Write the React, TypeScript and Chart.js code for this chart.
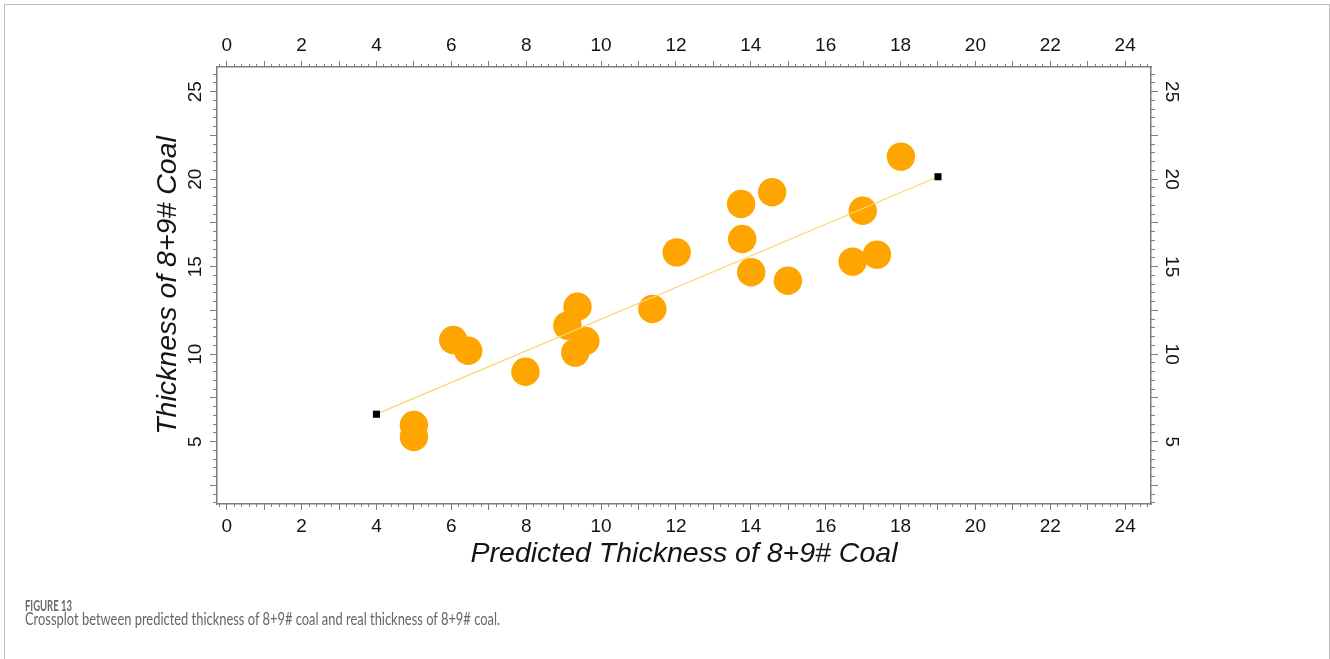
import React, { useEffect, useLayoutEffect, useRef } from "react";
import { Chart, registerables } from "chart.js";

Chart.register(...registerables);

// Crossplot values: predicted thickness (x) vs. real thickness (y) of 8+9# coal
const predicted = [5.0, 5.0, 6.05, 6.45, 7.98, 9.37, 9.1, 9.58, 9.31, 11.37, 12.02, 13.74, 13.77, 14.01, 14.57, 14.99, 16.72, 16.99, 17.37, 18.01];
const real = [5.95, 5.27, 10.81, 10.2, 9.0, 12.71, 11.63, 10.75, 10.09, 12.58, 15.82, 18.58, 16.58, 14.68, 19.25, 14.2, 15.29, 18.2, 15.69, 21.29];

// Fitted trend line end points
const trendX = [4.0, 19.0];
const trendY = [6.57, 20.14];

// Axis extents and tick spacing
const xRange = [-0.26, 24.69];
const yRange = [1.44, 26.41];
const xMajorStep = 1;
const xMinorStep = 0.2;
const xLabelEvery = 2;
const yMajorStep = 2.5;
const yMinorStep = 0.5;
const yLabelEvery = 5;

const xTitle = "Predicted Thickness of 8+9# Coal";
const yTitle = "Thickness of 8+9# Coal";
const figureLabel = "FIGURE 13";
const figureCaption = "Crossplot between predicted thickness of 8+9# coal and real thickness of 8+9# coal.";

const FONT = "'Liberation Sans', Arial, sans-serif";
const AXIS_GRAY = "#7d7d7d";
const TEXT = "#141414";

const fixedSize = (size: number) => (scale: any) => {
  if (scale.isHorizontal()) scale.height = size;
  else scale.width = size;
};

const isMultiple = (v: number, every: number) => Math.abs(v / every - Math.round(v / every)) < 1e-6;

function labelledAxis(
  position: "top" | "bottom" | "left" | "right",
  size: number,
  tickLen: number,
  pad: number,
  title?: { text: string; padding: any }
) {
  const horizontal = position === "top" || position === "bottom";
  const range = horizontal ? xRange : yRange;
  const every = horizontal ? xLabelEvery : yLabelEvery;
  const rotation = position === "left" ? 90 : position === "right" ? -90 : 0;
  return {
    type: "linear",
    position,
    weight: 1,
    min: range[0],
    max: range[1],
    afterFit: fixedSize(size),
    border: { display: true, color: AXIS_GRAY, width: 1.5 },
    grid: {
      display: true,
      drawOnChartArea: false,
      drawTicks: true,
      tickLength: tickLen,
      color: AXIS_GRAY,
      tickColor: AXIS_GRAY,
      tickWidth: 1,
    },
    ticks: {
      stepSize: horizontal ? xMajorStep : yMajorStep,
      includeBounds: false,
      autoSkip: false,
      minRotation: rotation,
      maxRotation: rotation,
      crossAlign: horizontal ? "near" : "center",
      padding: pad,
      color: TEXT,
      font: { family: FONT, size: 19 },
      callback: (v: any) => (isMultiple(Number(v), every) ? String(v) : ""),
    },
    title: title
      ? {
          display: true,
          text: title.text,
          color: TEXT,
          font: { family: FONT, size: 28.5, style: "italic" },
          padding: title.padding,
        }
      : { display: false },
  };
}

function minorAxis(position: "top" | "bottom" | "left" | "right", tickLen: number) {
  const horizontal = position === "top" || position === "bottom";
  const range = horizontal ? xRange : yRange;
  return {
    type: "linear",
    position,
    weight: 0,
    min: range[0],
    max: range[1],
    afterFit: fixedSize(0),
    border: { display: false },
    grid: {
      display: true,
      drawOnChartArea: false,
      drawTicks: true,
      tickLength: tickLen,
      color: AXIS_GRAY,
      tickColor: AXIS_GRAY,
      tickWidth: 1,
    },
    ticks: {
      display: false,
      stepSize: horizontal ? xMinorStep : yMinorStep,
      includeBounds: false,
    },
    title: { display: false },
  };
}

function useFitWidth(ref: React.RefObject<HTMLDivElement | null>, target: number) {
  useLayoutEffect(() => {
    const el = ref.current;
    if (!el) return;
    el.style.transform = "none";
    const w = el.getBoundingClientRect().width;
    if (w > 0) el.style.transform = `scaleX(${target / w})`;
  }, []);
}

export default function App() {
  const canvasRef = useRef<HTMLCanvasElement>(null);
  const labelRef = useRef<HTMLDivElement>(null);
  const captionRef = useRef<HTMLDivElement>(null);

  useFitWidth(labelRef, 47);
  useFitWidth(captionRef, 475);

  useEffect(() => {
    const canvas = canvasRef.current;
    if (!canvas) return;
    const chart = new Chart(canvas, {
      type: "scatter",
      data: {
        datasets: [
          {
            label: "trend",
            data: trendX.map((x, i) => ({ x, y: trendY[i] })),
            showLine: true,
            borderColor: "#FFD27A",
            borderWidth: 1.3,
            pointStyle: "rect",
            pointRadius: 5,
            pointBackgroundColor: "#000000",
            pointBorderWidth: 0,
            xAxisID: "x",
            yAxisID: "y",
          },
          {
            label: "wells",
            data: predicted.map((x, i) => ({ x, y: real[i] })),
            pointRadius: 14.2,
            pointBackgroundColor: "#FFA500",
            pointBorderColor: "#FFA500",
            pointBorderWidth: 0,
            xAxisID: "x",
            yAxisID: "y",
          },
        ],
      } as any,
      options: {
        responsive: false,
        animation: false,
        events: [],
        layout: { padding: 0 },
        plugins: {
          legend: { display: false },
          tooltip: { enabled: false },
          title: { display: false },
        },
        scales: {
          x: labelledAxis("bottom", 155, 6, 5.6, { text: xTitle, padding: { top: 0, bottom: 87.5 } }),
          xTop: labelledAxis("top", 67, 6, 3.6),
          y: labelledAxis("left", 217, 7, 3.9, { text: yTitle, padding: { top: 151, bottom: 0 } }),
          yRight: labelledAxis("right", 179, 7, 2.9),
          xMinor: minorAxis("bottom", 3),
          xTopMinor: minorAxis("top", 3),
          yMinor: minorAxis("left", 4),
          yRightMinor: minorAxis("right", 4),
        } as any,
      },
    });
    return () => chart.destroy();
  }, []);

  return (
    <div style={{ position: "absolute", left: 0, top: 0, width: 1330, height: 659, overflow: "hidden", background: "#ffffff" }}>
      <div
        style={{
          position: "absolute",
          left: 4,
          top: 4,
          width: 1326,
          height: 655,
          boxSizing: "border-box",
          borderTop: "1px solid #bdbdbd",
          borderLeft: "1px solid #bdbdbd",
          borderRight: "1px solid #bdbdbd",
        }}
      />
      <canvas ref={canvasRef} width={1330} height={659} style={{ position: "absolute", left: 0, top: 0 }} />
      <div
        ref={labelRef}
        style={{
          position: "absolute",
          left: 25,
          top: 596,
          whiteSpace: "nowrap",
          transformOrigin: "0 0",
          fontFamily: "Lato, 'Open Sans', sans-serif",
          fontWeight: 700,
          fontSize: 15,
          lineHeight: "18px",
          color: "#6b6b6b",
        }}
      >
        {figureLabel}
      </div>
      <div
        ref={captionRef}
        style={{
          position: "absolute",
          left: 25,
          top: 609,
          whiteSpace: "nowrap",
          transformOrigin: "0 0",
          fontFamily: "Lato, 'Open Sans', sans-serif",
          fontWeight: 400,
          fontSize: 17,
          lineHeight: "20px",
          color: "#666666",
        }}
      >
        {figureCaption}
      </div>
    </div>
  );
}
